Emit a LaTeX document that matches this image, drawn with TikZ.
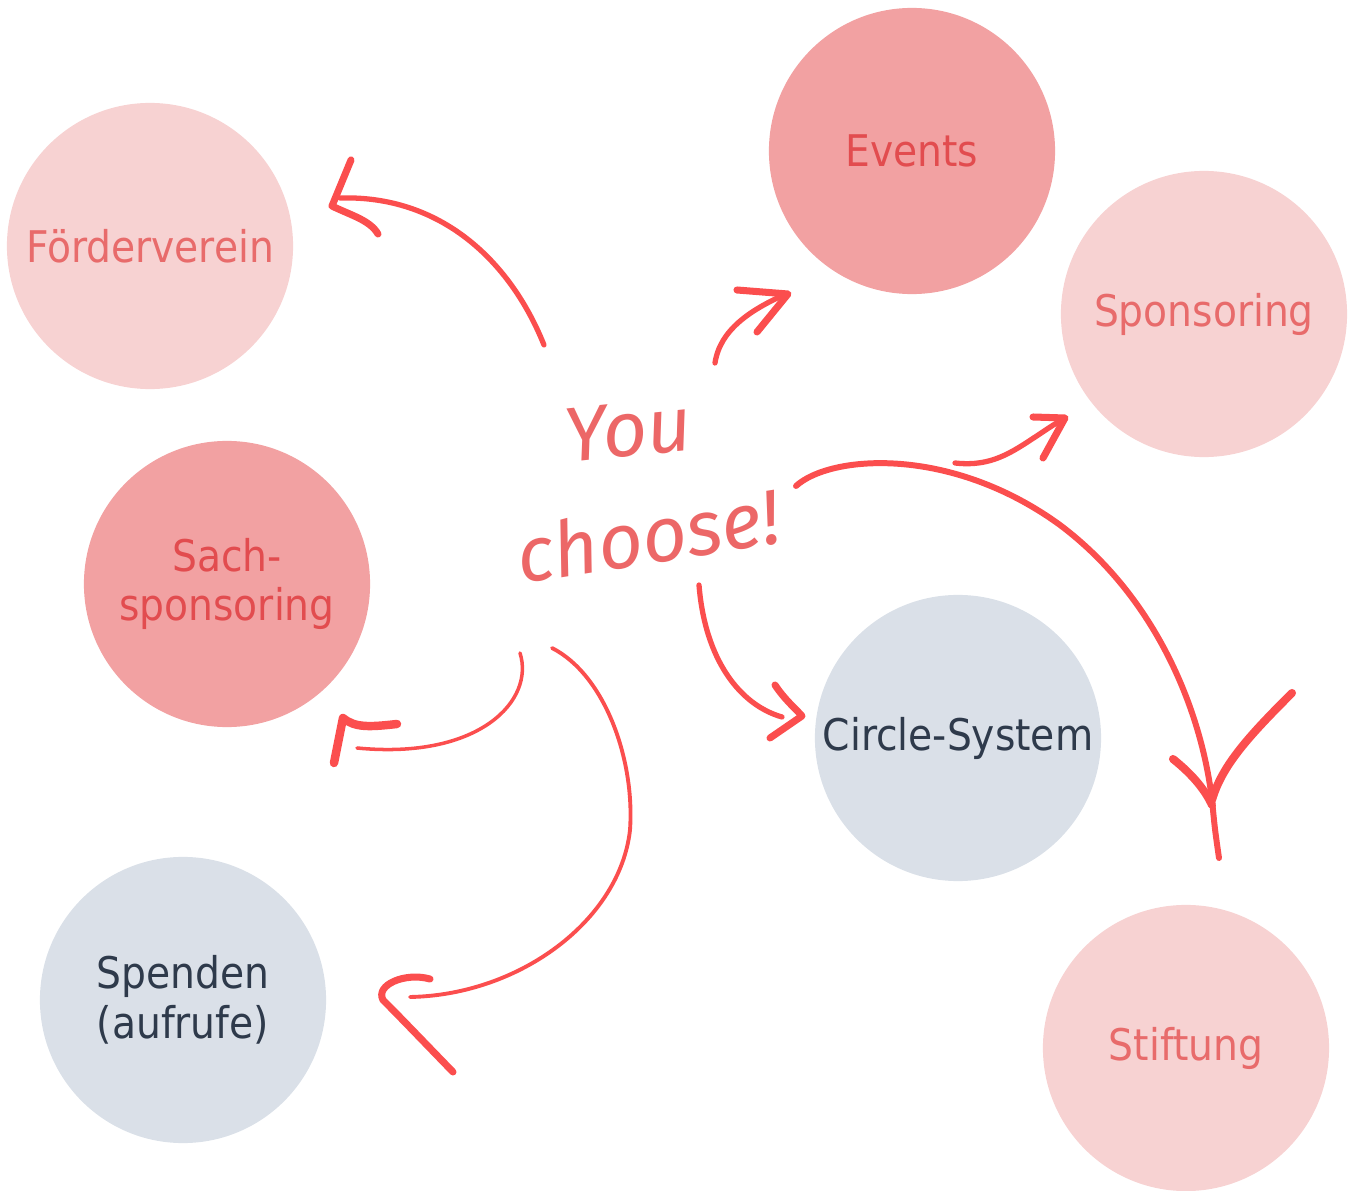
\documentclass[tikz,border=0pt]{standalone}
\usepackage{fontspec}
\setmainfont{DejaVu Sans Condensed}
\newfontfamily\handfont{Fira Sans}
\definecolor{palefill}{HTML}{F7D2D2}
\definecolor{paletext}{HTML}{E86B6B}
\definecolor{rosefill}{HTML}{F2A1A2}
\definecolor{rosetext}{HTML}{E24C4F}
\definecolor{greyfill}{HTML}{DAE0E8}
\definecolor{greytext}{HTML}{2E3A4B}
\definecolor{ink}{HTML}{FB4E4E}
\definecolor{handink}{HTML}{EC6767}
\tikzset{
  bubble/.style={circle,minimum size=2.86cm,inner sep=0pt,align=center,
    font=\fontsize{12.4pt}{14.2pt}\selectfont},
  pale/.style={bubble,fill=palefill,text=paletext},
  rose/.style={bubble,fill=rosefill,text=rosetext},
  grey/.style={bubble,fill=greyfill,text=greytext},
  hand/.style={text=handink,inner sep=0pt,font=\handfont\itshape\fontsize{22pt}{22pt}\selectfont},
  scribble/.style={draw=ink,line width=1.5pt,line cap=round,line join=round},
  barb/.style={scribble,line width=2pt}
}
\begin{document}
\begin{tikzpicture}[x=0.01cm,y=-0.01cm]
    \useasboundingbox (0,0) rectangle (1353,1191);
    % the seven bubbles
    \node[pale](foerder)at(150,246){F\"orderverein};
    \node[rose](events)at(912,151){Events};
    \node[pale](sponsor)at(1204,314){Sponsoring};
    \node[rose](sach)at(227,584){Sach-\\sponsoring};
    \node[grey](circle)at(958,738){Circle-System};
    \node[grey](spenden)at(183,1000){Spenden\\(aufrufe)};
    \node[pale](stiftung)at(1186,1048){Stiftung};
    % handwritten centre
    \node[hand,rotate=6](you)at(628,430){You};
    \node[hand,rotate=9](choose)at(648,535){choose!};
    % start and end points of the arrows
    \coordinate (f0) at (544,345); \coordinate (f1) at (340,198);
    \coordinate (e0) at (715,363); \coordinate (e1) at (786,294);
    \coordinate (s0) at (955,463); \coordinate (s1) at (1063,419);
    \coordinate (t0) at (796,486); \coordinate (t1) at (1219,858);
    \coordinate (c0) at (699,585); \coordinate (c1) at (782,717);
    \coordinate (a0) at (520,653); \coordinate (a1) at (357,748);
    \coordinate (p0) at (552,648); \coordinate (p1) at (410,997);
    % Foerderverein
    \draw[scribble](f0)..controls(510,260)and(440,195)..(f1);
    \draw[barb](351,160)--(332,206)..controls(350,215)and(370,220)..(378,234);
    % Events
    \draw[scribble](e0)..controls(720,330)and(750,310)..(e1);
    \draw[barb](737,290)--(788,294)--(757,332);
    % Sponsoring
    \draw[scribble](s0)..controls(1000,468)and(1020,445)..(s1);
    \draw[barb](1033,417)--(1065,418)--(1043,458);
    % Stiftung
    \draw[scribble,line width=1.7pt](t0)..controls(830,455)and(950,445)..(1060,525)
        ..controls(1160,600)and(1205,720)..(1213,810)..controls(1215,830)..(t1);
    \draw[barb,line width=2.3pt](1173,759)..controls(1193,775)and(1205,790)..(1212,805);
    \draw[barb,line width=2.3pt](1292,693)..controls(1250,735)and(1222,765)..(1212,800);
    % Circle-System
    \draw[scribble](c0)..controls(705,660)and(740,705)..(c1);
    \draw[barb](775,685)..controls(785,700)and(795,708)..(802,716)--(770,738);
    % Sachsponsoring
    \draw[scribble,line width=1pt](a0)..controls(535,700)and(480,760)..(a1);
    \draw[barb,line width=2.4pt](397,724)..controls(370,727)and(355,728)..(343,718)--(334,763);
    % Spenden
    \draw[scribble,line width=1.1pt](p0)..controls(605,675)and(635,760)..(630,830)
        ..controls(620,920)and(520,995)..(p1);
    \draw[barb](430,979)..controls(405,972)and(375,985)..(383,1000)..controls(395,1012)..(453,1072);
\end{tikzpicture}
\end{document}
